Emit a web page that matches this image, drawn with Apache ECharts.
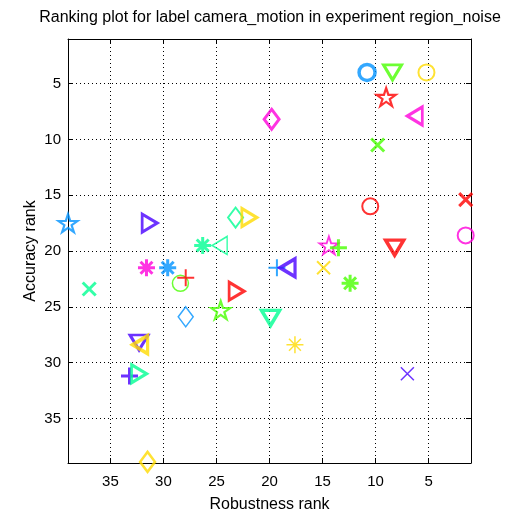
<!DOCTYPE html>
<html>
<head>
<meta charset="utf-8">
<script src="https://cdn.jsdelivr.net/npm/echarts@6/dist/echarts.min.js"></script>
<style>html,body{margin:0;padding:0;background:#fff}#c{width:520px;height:520px}</style>
</head>
<body>
<div id="c"></div>
<script>
// ---- data ----
const titleText = 'Ranking plot for label camera_motion in experiment region_noise';
const xName = 'Robustness rank';
const yName = 'Accuracy rank';
const tickValues = [5, 10, 15, 20, 25, 30, 35];
const robustnessRank = [39.0, 31.3, 19.8, 23.2, 21.9, 26.3, 24.7, 10.8, 8.4, 5.2,
  9.0, 6.3, 9.8, 10.5, 1.5, 1.5, 14.4, 13.5, 8.2, 14.9,
  12.4, 19.3, 18.3, 19.9, 17.6, 7.0, 31.6, 29.6, 28.4, 27.9,
  37.0, 23.1, 24.6, 27.9, 32.3, 32.2, 33.2, 32.3, 31.5];
const accuracyRank = [17.5, 17.5, 8.2, 17.0, 17.0, 19.5, 19.5, 4.0, 4.0, 4.0,
  6.2, 7.9, 10.5, 16.0, 15.4, 18.6, 19.5, 19.7, 19.7, 21.5,
  22.9, 21.5, 21.5, 26.0, 28.4, 31.0, 21.5, 21.5, 22.9, 22.4,
  23.4, 23.6, 25.3, 25.9, 28.2, 28.4, 31.2, 31.0, 38.9];

// ---- styles ----
const markerShape = ['star', 'triR', 'diamond', 'diamond', 'triR', 'aster', 'triL', 'circle', 'triD', 'circle',
  'star', 'triL', 'x', 'circle', 'x', 'circle', 'star', 'plus', 'triD', 'x',
  'aster', 'plus', 'triL', 'triD', 'aster', 'x', 'aster', 'aster', 'circle', 'plus',
  'x', 'triR', 'star', 'diamond', 'triD', 'triL', 'plus', 'triR', 'diamond'];
const markerColor = ['b', 'v', 'm', 's', 'y', 's', 's', 'b', 'g', 'y',
  'r', 'm', 'g', 'r', 'r', 'm', 'm', 'g', 'r', 'y',
  'g', 'b', 'v', 's', 'y', 'v', 'm', 'b', 'g', 'r',
  's', 'r', 'g', 'b', 'v', 'y', 'v', 's', 'y'];
const markerWidth = [2.2, 3, 3, 2, 3, 3, 1.5, 3.5, 3, 2,
  2.2, 3, 3, 2, 3, 2, 1.8, 3, 3.5, 2,
  3, 2, 3.5, 3.5, 1.5, 1.5, 3, 3, 1.5, 2,
  3, 3, 2.2, 1.5, 3, 3.5, 3, 3, 2.5];
const palette = { r: '#ff0000', y: '#ffdb00', g: '#49ff00', s: '#00ff92', b: '#0092ff', v: '#4900ff', m: '#ff00db' };
const shapes = {
  circle: { symbol: 'circle', size: [16, 16] },
  diamond: { symbol: 'diamond', size: [15, 20] },
  triD: { symbol: 'path://M0,0 L20,0 L10,17 Z', size: [18, 15] },
  triL: { symbol: 'path://M0,10 L17,0 L17,20 Z', size: [15, 18] },
  triR: { symbol: 'path://M0,0 L17,10 L0,20 Z', size: [15, 18] },
  star: { symbol: 'path://M10,0 L12.25,6.91 L19.51,6.91 L13.63,11.18 L15.88,18.09 L10,13.82 L4.12,18.09 L6.37,11.18 L0.49,6.91 L7.75,6.91 Z', size: [19, 18] },
  aster: { symbol: 'path://M0,10 L20,10 M10,0 L10,20 M3,3 L17,17 M17,3 L3,17', size: [17, 17] },
  x: { symbol: 'path://M0,0 L20,20 M20,0 L0,20', size: [13, 13] },
  plus: { symbol: 'path://M0,10 L20,10 M10,0 L10,20', size: [17, 17] }
};

const points = robustnessRank.map((xv, i) => {
  const sh = shapes[markerShape[i]];
  return {
    value: [xv, accuracyRank[i]],
    symbol: sh.symbol,
    symbolSize: sh.size,
    itemStyle: { color: 'rgba(0,0,0,0)', borderColor: palette[markerColor[i]], borderWidth: markerWidth[i] }
  };
});

const font = 'Liberation Sans';
const baseAxis = {
  type: 'value', min: 1, max: 39, inverse: true,
  axisLine: { show: true, onZero: false, lineStyle: { color: '#000', width: 1 } },
  axisTick: { show: true, inside: true, length: 5, customValues: tickValues, lineStyle: { color: '#000', width: 1 } },
  axisLabel: { show: true, customValues: tickValues, color: '#000', fontSize: 15, fontFamily: font },
  splitLine: { show: true, lineStyle: { color: '#000', width: 1, type: [1, 3] } }
};
function axis(extra) { return echarts.util.merge(echarts.util.clone(baseAxis), extra, true); }

const chart = echarts.init(document.getElementById('c'));
chart.setOption({
  animation: false,
  backgroundColor: '#fff',
  grid: { left: 68, right: 49, top: 39, bottom: 57, containLabel: false, outerBoundsMode: 'none' },
  xAxis: [
    axis({ position: 'bottom', name: xName, nameLocation: 'middle', nameGap: 34, nameMoveOverlap: false,
      nameTextStyle: { color: '#000', fontSize: 16, fontFamily: font },
      axisLabel: { margin: 11 } }),
    axis({ position: 'top', axisLabel: { show: false }, splitLine: { show: false } })
  ],
  yAxis: [
    axis({ position: 'left', name: yName, nameLocation: 'middle', nameGap: 29, nameMoveOverlap: false,
      nameTextStyle: { color: '#000', fontSize: 16, fontFamily: font },
      axisLabel: { margin: 7 } }),
    axis({ position: 'right', axisLabel: { show: false }, splitLine: { show: false } })
  ],
  graphic: [{
    type: 'text', x: 270, y: 18,
    style: { text: titleText, fill: '#000', font: '16px "Liberation Sans"', textAlign: 'center', textVerticalAlign: 'middle' }
  }],
  series: [{
    type: 'scatter',
    xAxisIndex: 0, yAxisIndex: 0,
    data: points,
    emphasis: { disabled: true }
  }]
});
</script>
</body>
</html>
